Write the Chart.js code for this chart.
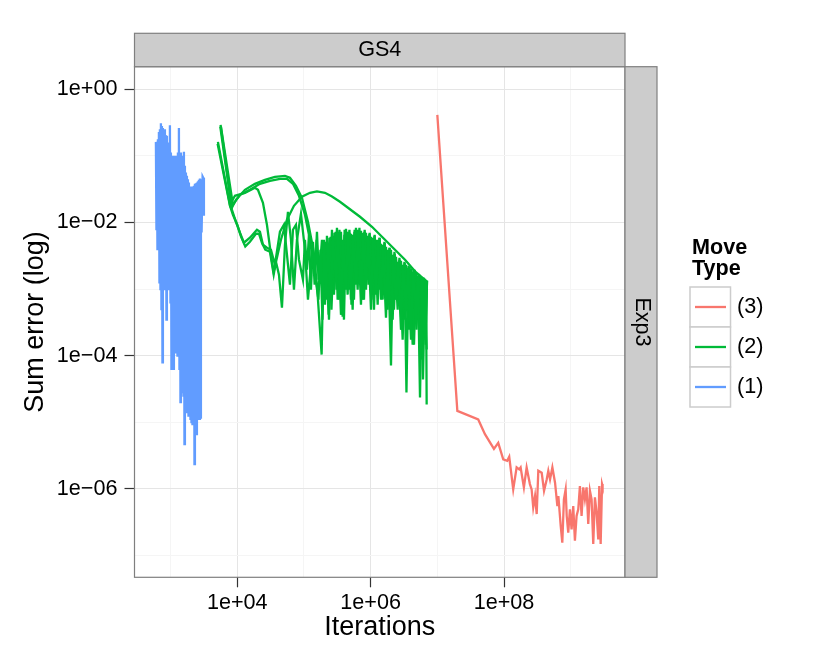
<!DOCTYPE html>
<html>
<head>
    <title>GS4 - Exp3</title>
    <meta http-equiv="content-type" content="text/html;charset=UTF-8">
    <script src="https://cdn.jsdelivr.net/npm/chart.js"></script>
    <style>
        html, body {
            margin: 0;
            padding: 0;
            background: #ffffff;
        }

        #wrap {
            width: 830px;
            height: 664px;
        }
    </style>
</head>
<body>
<div id="wrap">
    <canvas id="errChart" width="830" height="664"></canvas>
</div>
<script>
    // legend groups, top to bottom
    const moveTypes = ['(3)', '(2)', '(1)'];
    const moveColors = ['#F8766D', '#00BA38', '#619CFF'];

    // axis range and ticks, as powers of ten
    const xRange = [2.459, 9.814];
    const yRange = [-7.33, 0.339];
    const xGrid = [3, 4, 5, 6, 7, 8, 9];
    const xMajor = [4, 6, 8];
    const yGrid = [-7, -6, -5, -4, -3, -2, -1, 0];
    const yMajor = [-6, -4, -2, 0];

    // points are [log10(iterations), log10(sum error)]
    const move3 = [
        [7.0, -0.385], [7.30, -4.83], [7.613, -4.96], [7.714, -5.18], [7.849, -5.40], [7.913, -5.31],
        [7.988, -5.56], [8.048, -5.58], [8.078, -5.52], [8.138, -6.01], [8.189, -5.68], [8.228, -5.71],
        [8.249, -5.68], [8.298, -5.98], [8.339, -5.68], [8.388, -5.93], [8.414, -6.01], [8.438, -6.28],
        [8.465, -6.11], [8.49, -6.38], [8.514, -5.73], [8.565, -5.76], [8.60, -6.03], [8.64, -5.86],
        [8.664, -5.73], [8.69, -5.86], [8.725, -5.68], [8.765, -5.91], [8.80, -6.26], [8.815, -6.11],
        [8.85, -6.56], [8.874, -6.81], [8.898, -6.16], [8.924, -6.01], [8.94, -6.41], [8.963, -6.66],
        [8.988, -6.31], [9.013, -6.61], [9.038, -6.26], [9.063, -6.78], [9.088, -6.41], [9.113, -6.31],
        [9.138, -5.96], [9.163, -6.41], [9.188, -5.98], [9.213, -6.16], [9.238, -5.98], [9.263, -6.53],
        [9.288, -6.03], [9.313, -6.16], [9.338, -6.83], [9.363, -6.13], [9.388, -6.36], [9.413, -6.76],
        [9.428, -5.96], [9.449, -6.83], [9.47, -5.93], [9.478, -5.96]
    ];

    const move2a = [
        [3.75, -0.535], [3.92, -1.78], [3.98, -1.66], [4.115, -1.51], [4.265, -1.42], [4.415, -1.36],
        [4.565, -1.315], [4.715, -1.30], [4.79, -1.33], [4.88, -1.45], [4.97, -1.63], [5.06, -1.99],
        [5.135, -2.38], [5.195, -2.935], [5.24, -3.61], [5.265, -3.985],
        [5.30, -2.26], [5.33, -3.01], [5.36, -2.335], [5.405, -3.16], [5.435, -2.20], [5.48, -2.89],
        [5.51, -2.14], [5.555, -3.385], [5.585, -2.26], [5.63, -3.01], [5.66, -2.14], [5.705, -3.16],
        [5.735, -2.185], [5.78, -2.935], [5.81, -2.11], [5.855, -3.235], [5.885, -2.155], [5.93, -3.01],
        [5.96, -2.20], [6.005, -3.31], [6.035, -2.23], [6.08, -3.085], [6.11, -2.26], [6.155, -3.16],
        [6.185, -2.335], [6.23, -3.43], [6.26, -2.41], [6.305, -4.15], [6.335, -2.485], [6.38, -3.16],
        [6.41, -2.59], [6.455, -3.61], [6.485, -2.635], [6.53, -3.31], [6.56, -2.68], [6.605, -3.76],
        [6.635, -2.74], [6.68, -3.31], [6.71, -2.80], [6.74, -4.63], [6.77, -2.83], [6.80, -3.61],
        [6.83, -2.89], [6.84, -4.735]
    ];

    const move2b = [
        [3.755, -0.56], [3.935, -1.735], [4.04, -1.585], [4.19, -1.51], [4.34, -1.42], [4.49, -1.375],
        [4.64, -1.345], [4.745, -1.345], [4.835, -1.42], [4.925, -1.60], [5.015, -1.885], [5.09, -2.26],
        [5.15, -2.68],
        [5.217, -3.16], [5.247, -2.41], [5.277, -3.46], [5.307, -2.335], [5.337, -3.16], [5.382, -2.23],
        [5.412, -3.31], [5.457, -2.155], [5.487, -3.01], [5.532, -2.11], [5.562, -3.385], [5.607, -2.185],
        [5.637, -2.86], [5.682, -2.11], [5.712, -3.235], [5.757, -2.14], [5.787, -2.785], [5.832, -2.08],
        [5.862, -3.16], [5.907, -2.14], [5.937, -2.935], [5.982, -2.17], [6.012, -3.16], [6.057, -2.20],
        [6.087, -2.935], [6.132, -2.23], [6.162, -3.085], [6.207, -2.29], [6.237, -3.01], [6.282, -2.38],
        [6.312, -3.43], [6.357, -2.44], [6.387, -3.16], [6.432, -2.53], [6.462, -3.61], [6.507, -2.59],
        [6.537, -4.555], [6.567, -2.65], [6.612, -3.46], [6.642, -2.71], [6.687, -3.61], [6.717, -2.77],
        [6.762, -3.91], [6.792, -2.83], [6.822, -3.76], [6.845, -2.87]
    ];

    const move2c = [
        [3.71, -0.79], [3.89, -1.735], [3.965, -1.60], [4.115, -1.555], [4.265, -1.48], [4.31, -1.51],
        [4.385, -1.705], [4.445, -2.035], [4.505, -2.485], [4.545, -2.74], [4.595, -2.53], [4.655, -2.26],
        [4.745, -1.96], [4.85, -1.75], [4.97, -1.615], [5.09, -1.555], [5.195, -1.535], [5.315, -1.555],
        [5.42, -1.61], [5.54, -1.69], [5.66, -1.78], [5.84, -1.915], [6.02, -2.065], [6.185, -2.23],
        [6.365, -2.41], [6.515, -2.56], [6.665, -2.735], [6.84, -2.885]
    ];

    const move2d = [
        [3.705, -0.82], [3.89, -1.75], [3.935, -1.885], [4.0, -2.035], [4.055, -2.21], [4.12, -2.36],
        [4.19, -2.29], [4.28, -2.17], [4.325, -2.17], [4.37, -2.305], [4.42, -2.41], [4.49, -2.44],
        [4.546, -2.785], [4.58, -2.59], [4.625, -2.785], [4.67, -3.28], [4.715, -2.335], [4.76, -1.84],
        [4.805, -2.26], [4.85, -3.01], [4.895, -2.26], [4.955, -1.87], [5.015, -2.41], [5.06, -3.16],
        [5.13, -2.335], [5.16, -2.935], [5.19, -2.26], [5.22, -2.86], [5.265, -2.41], [5.295, -3.16],
        [5.325, -2.29], [5.37, -3.385], [5.40, -2.215], [5.43, -2.935], [5.475, -2.14], [5.505, -3.16],
        [5.55, -2.17], [5.58, -3.415], [5.61, -2.11], [5.655, -3.085], [5.685, -2.155], [5.73, -3.31],
        [5.76, -2.11], [5.805, -3.01], [5.835, -2.14], [5.88, -3.16], [5.91, -2.11], [5.955, -2.86],
        [5.985, -2.155], [6.03, -3.085], [6.06, -2.185], [6.105, -3.235], [6.135, -2.23], [6.18, -3.16],
        [6.21, -2.305], [6.255, -3.31], [6.285, -2.38], [6.33, -3.46], [6.36, -2.47], [6.405, -3.31],
        [6.435, -2.56], [6.48, -3.76], [6.51, -2.605], [6.555, -3.46], [6.585, -2.665], [6.63, -3.835],
        [6.66, -2.71], [6.705, -3.46], [6.735, -2.785], [6.765, -4.06], [6.795, -2.83], [6.825, -3.835],
        [6.845, -2.88]
    ];

    const move2e = [
        [3.745, -0.56], [3.92, -1.81], [3.98, -1.99], [4.04, -2.155], [4.10, -2.305], [4.19, -2.23],
        [4.295, -2.11], [4.34, -2.14], [4.385, -2.335], [4.445, -2.38], [4.505, -2.41], [4.565, -2.635],
        [4.64, -2.14], [4.70, -2.035], [4.745, -2.485], [4.79, -2.935], [4.835, -2.11], [4.88, -2.035],
        [4.925, -2.56], [4.985, -2.86],
        [5.015, -2.26], [5.045, -2.71], [5.075, -2.185], [5.105, -3.01], [5.135, -2.29], [5.165, -2.785],
        [5.195, -2.14], [5.225, -2.86], [5.27, -2.26], [5.315, -3.235], [5.345, -2.20], [5.375, -3.46],
        [5.42, -2.11], [5.45, -3.085], [5.495, -2.08], [5.525, -3.16], [5.555, -2.14], [5.60, -3.46],
        [5.63, -2.095], [5.675, -3.01], [5.705, -2.17], [5.75, -3.16], [5.78, -2.08], [5.825, -2.86],
        [5.855, -2.125], [5.90, -3.16], [5.93, -2.155], [5.975, -2.935], [6.005, -2.215], [6.05, -3.31],
        [6.08, -2.26], [6.125, -3.01], [6.155, -2.32], [6.20, -3.085], [6.23, -2.365], [6.275, -3.235],
        [6.305, -2.41], [6.35, -3.31], [6.38, -2.515], [6.425, -3.16], [6.455, -2.575], [6.50, -3.46],
        [6.53, -2.635], [6.575, -3.61], [6.605, -2.695], [6.65, -3.835], [6.68, -2.755], [6.725, -3.61],
        [6.755, -2.815], [6.785, -4.36], [6.815, -2.845], [6.84, -3.91]
    ];

    const move1 = [
        [2.78, -0.79], [2.788, -2.1], [2.795, -0.79], [2.803, -2.4], [2.81, -0.75], [2.818, -2.2],
        [2.825, -0.64], [2.833, -2.9], [2.84, -0.60], [2.848, -3.0], [2.855, -0.51], [2.863, -3.3],
        [2.87, -0.55], [2.878, -4.1], [2.885, -0.58], [2.893, -3.0], [2.90, -0.61], [2.908, -2.7],
        [2.915, -0.60], [2.923, -3.0], [2.93, -0.69], [2.938, -3.46], [2.945, -0.70], [2.953, -3.0],
        [2.96, -0.80], [2.968, -2.9], [2.975, -0.90], [2.983, -3.0], [2.99, -0.54], [2.998, -3.2],
        [3.005, -0.95], [3.013, -4.2], [3.02, -1.0], [3.028, -3.6], [3.035, -1.0], [3.043, -4.2],
        [3.05, -1.01], [3.058, -3.9], [3.065, -1.0], [3.073, -3.95], [3.08, -1.02], [3.088, -3.9],
        [3.095, -1.0], [3.103, -4.0], [3.11, -0.95], [3.118, -3.95], [3.125, -0.58], [3.133, -4.2],
        [3.14, -0.98], [3.148, -4.7], [3.155, -0.95], [3.163, -4.3], [3.17, -1.0], [3.178, -4.55],
        [3.185, -1.05], [3.193, -4.6], [3.20, -0.94], [3.208, -5.33], [3.215, -1.15], [3.223, -4.7],
        [3.23, -1.25], [3.238, -4.85], [3.245, -1.3], [3.253, -4.75], [3.26, -1.35], [3.268, -4.9],
        [3.275, -1.4], [3.283, -4.85], [3.29, -1.46], [3.298, -4.95], [3.305, -1.46], [3.313, -5.0],
        [3.32, -1.47], [3.328, -5.03], [3.335, -1.46], [3.343, -4.9], [3.35, -1.45], [3.358, -5.63],
        [3.365, -1.42], [3.373, -5.0], [3.38, -1.41], [3.388, -5.18], [3.395, -1.40], [3.403, -4.95],
        [3.41, -1.38], [3.418, -4.9], [3.425, -1.36], [3.433, -4.95], [3.44, -1.34], [3.448, -4.93],
        [3.455, -1.35], [3.465, -2.15], [3.48, -1.31], [3.49, -1.33], [3.50, -1.9]
    ];

    const FONT = "'Liberation Sans', Arial, Helvetica, sans-serif";
    Chart.defaults.font.family = FONT;

    function toPoints(arr) {
        return arr.map(p => ({x: Math.pow(10, p[0]), y: Math.pow(10, p[1])}));
    }

    function expOf(v) {
        return Math.round(Math.log10(v));
    }

    function expLabel(e) {
        const a = Math.abs(e);
        return '1e' + (e < 0 ? '\u2212' : '+') + (a < 10 ? '0' : '') + a;
    }

    function lineSet(arr, color) {
        return {
            data: toPoints(arr),
            borderColor: color,
            borderWidth: 2.3,
            pointRadius: 0,
            tension: 0,
            fill: false
        };
    }

    // ggplot-like panel border, facet strips and legend
    const facetDecor = {
        id: 'facetDecor',
        beforeDraw(chart) {
            const ctx = chart.ctx;
            ctx.save();
            ctx.fillStyle = '#ffffff';
            ctx.fillRect(0, 0, chart.width, chart.height);
            ctx.restore();
        },
        afterDraw(chart) {
            const ctx = chart.ctx;
            const ca = chart.chartArea;
            ctx.save();

            // panel border
            ctx.strokeStyle = '#7f7f7f';
            ctx.lineWidth = 1.2;
            ctx.strokeRect(ca.left, ca.top, ca.right - ca.left, ca.bottom - ca.top);

            // top strip
            ctx.fillStyle = '#cccccc';
            ctx.fillRect(ca.left, ca.top - 33.4, ca.right - ca.left, 33.4);
            ctx.strokeRect(ca.left, ca.top - 33.4, ca.right - ca.left, 33.4);
            // right strip
            ctx.fillRect(ca.right, ca.top, 32, ca.bottom - ca.top);
            ctx.strokeRect(ca.right, ca.top, 32, ca.bottom - ca.top);

            ctx.fillStyle = '#000000';
            ctx.font = '21.6px ' + FONT;
            ctx.textAlign = 'center';
            ctx.textBaseline = 'middle';
            ctx.fillText('GS4', (ca.left + ca.right) / 2, ca.top - 16.2);
            ctx.save();
            ctx.translate(ca.right + 16.5, (ca.top + ca.bottom) / 2);
            ctx.rotate(Math.PI / 2);
            ctx.fillText('Exp3', 0, 0);
            ctx.restore();

            // legend
            const lx = 690, ly = 287;
            ctx.textAlign = 'left';
            ctx.textBaseline = 'alphabetic';
            ctx.font = 'bold 21.6px ' + FONT;
            ctx.fillText('Move', lx + 2, 254);
            ctx.fillText('Type', lx + 2, 275);
            ctx.font = '21.6px ' + FONT;
            ctx.textBaseline = 'middle';
            moveTypes.forEach((name, i) => {
                const top = ly + i * 40;
                ctx.fillStyle = '#ffffff';
                ctx.fillRect(lx, top, 40.5, 40);
                ctx.strokeStyle = '#cccccc';
                ctx.lineWidth = 1.5;
                ctx.strokeRect(lx, top, 40.5, 40);
                ctx.strokeStyle = moveColors[i];
                ctx.lineWidth = 2.3;
                ctx.beginPath();
                ctx.moveTo(lx + 5, top + 20);
                ctx.lineTo(lx + 36, top + 20);
                ctx.stroke();
                ctx.fillStyle = '#000000';
                ctx.fillText(name, lx + 47, top + 20.5);
            });
            ctx.restore();
        }
    };

    function gridColor(major) {
        return c => (c.tick && major.includes(expOf(c.tick.value))) ? '#e5e5e5' : '#f5f5f5';
    }

    function tickColor(major) {
        return c => (c.tick && major.includes(expOf(c.tick.value))) ? '#333333' : 'rgba(0,0,0,0)';
    }

    new Chart(document.getElementById('errChart'), {
        type: 'line',
        data: {
            datasets: [
                lineSet(move1, moveColors[2]),
                lineSet(move2a, moveColors[1]),
                lineSet(move2b, moveColors[1]),
                lineSet(move2c, moveColors[1]),
                lineSet(move2d, moveColors[1]),
                lineSet(move2e, moveColors[1]),
                lineSet(move3, moveColors[0])
            ]
        },
        options: {
            responsive: false,
            animation: false,
            layout: {
                padding: {left: 0, right: 205, top: 66.7, bottom: 0}
            },
            plugins: {
                legend: {display: false},
                tooltip: {enabled: false}
            },
            scales: {
                x: {
                    type: 'logarithmic',
                    position: 'bottom',
                    min: Math.pow(10, xRange[0]),
                    max: Math.pow(10, xRange[1]),
                    afterBuildTicks: s => {
                        s.ticks = xGrid.map(e => ({value: Math.pow(10, e)}));
                    },
                    afterFit: s => {
                        s.height = 86.7;
                    },
                    ticks: {
                        autoSkip: false,
                        maxRotation: 0,
                        minRotation: 0,
                        padding: 3,
                        color: '#000000',
                        font: {size: 21.6},
                        callback: v => xMajor.includes(expOf(v)) ? expLabel(expOf(v)) : ''
                    },
                    grid: {
                        color: gridColor(xMajor),
                        tickColor: tickColor(xMajor),
                        tickLength: 10,
                        tickWidth: 1.2,
                        lineWidth: 1
                    },
                    border: {display: false},
                    title: {
                        display: true,
                        text: 'Iterations',
                        color: '#000000',
                        font: {size: 27},
                        padding: {top: 0, bottom: 20}
                    }
                },
                y: {
                    type: 'logarithmic',
                    position: 'left',
                    min: Math.pow(10, yRange[0]),
                    max: Math.pow(10, yRange[1]),
                    afterBuildTicks: s => {
                        s.ticks = yGrid.map(e => ({value: Math.pow(10, e)}));
                    },
                    afterFit: s => {
                        s.width = 134.5;
                    },
                    ticks: {
                        autoSkip: false,
                        padding: 7,
                        color: '#000000',
                        font: {size: 21.6},
                        callback: v => yMajor.includes(expOf(v)) ? expLabel(expOf(v)) : ''
                    },
                    grid: {
                        color: gridColor(yMajor),
                        tickColor: tickColor(yMajor),
                        tickLength: 10,
                        tickWidth: 1.2,
                        lineWidth: 1
                    },
                    border: {display: false},
                    title: {
                        display: true,
                        text: 'Sum error (log)',
                        color: '#000000',
                        font: {size: 27},
                        padding: {top: 19, bottom: 0}
                    }
                }
            }
        },
        plugins: [facetDecor]
    });
</script>
</body>
</html>
